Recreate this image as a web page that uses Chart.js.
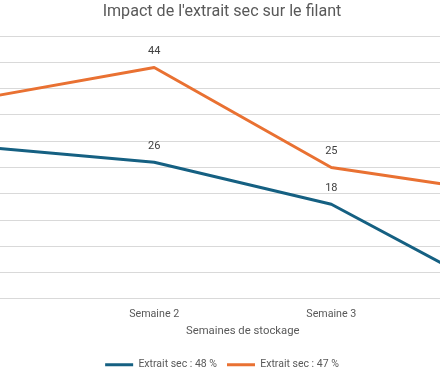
<!DOCTYPE html>
<html><head><meta charset="utf-8">
<script src="https://cdn.jsdelivr.net/npm/chart.js@4/dist/chart.umd.min.js"></script>
<style>
html,body{margin:0;padding:0;overflow:hidden;width:440px;height:369px;background:#fff}
#wrap{position:absolute;left:-153px;top:0;width:750px;height:380px}
</style></head>
<body><div id="wrap"><canvas id="c" width="750" height="380"></canvas></div>
<script>
const categories = ['Semaine 1', 'Semaine 2', 'Semaine 3', 'Semaine 4'];
const seriesNames = ['Extrait sec : 48 %', 'Extrait sec : 47 %'];
const values48 = [29, 26, 18, 0];
const values47 = [38, 44, 25, 20];
const yMin = 0, yMax = 50, yStep = 5;
const titleText = "Impact de l'extrait sec sur le filant";
const xTitle = 'Semaines de stockage';

const FONT = "Roboto, sans-serif";
const colors = ['#156082', '#E97132'];

const dataLabels = {
  id: 'dataLabels',
  afterDatasetsDraw(chart) {
    const ctx = chart.ctx;
    ctx.save();
    ctx.font = "11px " + FONT;
    ctx.fillStyle = '#404040';
    ctx.textAlign = 'center';
    ctx.textBaseline = 'middle';
    chart.data.datasets.forEach((ds, i) => {
      chart.getDatasetMeta(i).data.forEach((pt, j) => {
        ctx.fillText(String(ds.data[j]), pt.x, pt.y - 16);
      });
    });
    ctx.restore();
  }
};

new Chart(document.getElementById('c'), {
  type: 'line',
  data: {
    labels: categories,
    datasets: [
      { label: seriesNames[0], data: values48, borderColor: colors[0], backgroundColor: colors[0], borderWidth: 3, pointRadius: 0, tension: 0, borderJoinStyle: 'round' },
      { label: seriesNames[1], data: values47, borderColor: colors[1], backgroundColor: colors[1], borderWidth: 3, pointRadius: 0, tension: 0, borderJoinStyle: 'round' }
    ]
  },
  options: {
    responsive: false,
    animation: false,
    devicePixelRatio: 1,
    layout: { padding: { left: 0, right: 0, top: 2, bottom: 0 } },
    plugins: {
      title: { display: true, text: titleText, color: '#595959', font: { family: FONT, size: 16.1, weight: 'normal' }, padding: { top: 0, bottom: 14.7 } },
      legend: {
        position: 'bottom',
        labels: {
          color: '#595959', font: { family: FONT, size: 10.5 }, boxWidth: 28, boxHeight: 3, padding: 10,
          generateLabels(chart) {
            return chart.data.datasets.map((ds, i) => ({ text: ds.label, fillStyle: ds.borderColor, strokeStyle: ds.borderColor, lineWidth: 0, datasetIndex: i, fontColor: '#595959' }));
          }
        }
      },
      tooltip: { enabled: false }
    },
    scales: {
      x: {
        offset: true,
        grid: { display: false, drawTicks: false },
        border: { display: true, color: '#D9D9D9', width: 1 },
        ticks: { color: '#595959', font: { family: FONT, size: 10.7 }, padding: 9.4 },
        title: { display: true, text: xTitle, color: '#595959', font: { family: FONT, size: 11.3 }, padding: { top: -5.8, bottom: 11.2 } }
      },
      y: {
        min: yMin, max: yMax,
        ticks: { display: false, stepSize: yStep },
        grid: { color: '#D9D9D9', drawTicks: false },
        border: { display: false },
        afterFit(scale) { scale.width = 41.5; }
      }
    }
  },
  plugins: [dataLabels]
});
</script>
</body></html>
